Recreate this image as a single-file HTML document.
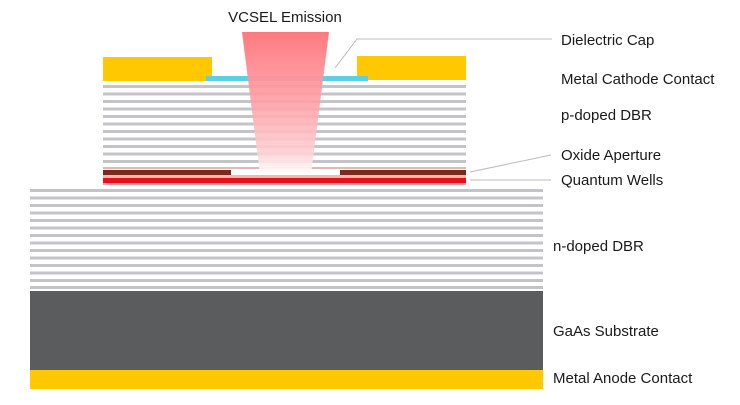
<!DOCTYPE html>
<html><head><meta charset="utf-8"><style>
body{margin:0;background:#fff;}
svg text{font-family:"Liberation Sans",Arial,sans-serif;font-size:15px;fill:#1a1a1a;}
</style></head><body>
<svg width="740" height="400" viewBox="0 0 740 400" xmlns="http://www.w3.org/2000/svg">
<defs>
<linearGradient id="beam" x1="0" y1="0" x2="0" y2="1">
<stop offset="0" stop-color="#ff7a80"/>
<stop offset="0.5" stop-color="#ffa0a6" stop-opacity="0.9"/>
<stop offset="0.85" stop-color="#ffd0d4" stop-opacity="0.9"/>
<stop offset="1" stop-color="#ffffff" stop-opacity="0.95"/>
</linearGradient>
</defs>
<g fill="#c4c4c8">
<rect x="103" y="85" width="363" height="3"/>
<rect x="103" y="92.5" width="363" height="3"/>
<rect x="103" y="100" width="363" height="3"/>
<rect x="103" y="107.5" width="363" height="3"/>
<rect x="103" y="115" width="363" height="3"/>
<rect x="103" y="122.5" width="363" height="3"/>
<rect x="103" y="130" width="363" height="3"/>
<rect x="103" y="137.5" width="363" height="3"/>
<rect x="103" y="145" width="363" height="3"/>
<rect x="103" y="152.5" width="363" height="3"/>
<rect x="103" y="160" width="363" height="3"/>
<rect x="103" y="167" width="363" height="2" fill="#e0b8b8"/>
</g>
<rect x="103" y="170" width="128" height="5" fill="#7a2a1a"/>
<rect x="340" y="170" width="126" height="5" fill="#7a2a1a"/>
<rect x="103" y="175" width="363" height="3" fill="#f2b8b0"/>
<rect x="103" y="178" width="363" height="5" fill="#e8101c"/>
<rect x="103" y="183" width="363" height="2" fill="#f0a0a8"/>
<g fill="#c4c4c8">
<rect x="30" y="189" width="513" height="3"/>
<rect x="30" y="196.5" width="513" height="3"/>
<rect x="30" y="204" width="513" height="3"/>
<rect x="30" y="211.5" width="513" height="3"/>
<rect x="30" y="219" width="513" height="3"/>
<rect x="30" y="226.5" width="513" height="3"/>
<rect x="30" y="234" width="513" height="3"/>
<rect x="30" y="241.5" width="513" height="3"/>
<rect x="30" y="249" width="513" height="3"/>
<rect x="30" y="256.5" width="513" height="3"/>
<rect x="30" y="264" width="513" height="3"/>
<rect x="30" y="271.5" width="513" height="3"/>
<rect x="30" y="279" width="513" height="3"/>
<rect x="30" y="286" width="513" height="3"/>
</g>
<rect x="30" y="291" width="513" height="79" fill="#5b5c5e"/>
<rect x="30" y="370" width="513" height="19" fill="#ffc800"/>
<rect x="103" y="57" width="109" height="24" fill="#ffc800"/>
<rect x="357" y="56" width="109" height="24" fill="#ffc800"/>
<rect x="206" y="76" width="162" height="5" fill="#5cd0e0"/>
<polygon points="242,32 329,32 311,174 260,174" fill="url(#beam)"/>
<polyline points="552,39 357,39 335,68" fill="none" stroke="#bbb" stroke-width="1"/>
<line x1="551" y1="155" x2="470" y2="172" stroke="#bbb" stroke-width="1"/>
<line x1="551" y1="180" x2="470" y2="180" stroke="#bbb" stroke-width="1"/>
<text x="285" y="22" text-anchor="middle">VCSEL Emission</text>
<text x="561" y="45">Dielectric Cap</text>
<text x="561" y="84">Metal Cathode Contact</text>
<text x="561" y="120">p-doped DBR</text>
<text x="561" y="160">Oxide Aperture</text>
<text x="561" y="185">Quantum Wells</text>
<text x="553" y="251">n-doped DBR</text>
<text x="553" y="336">GaAs Substrate</text>
<text x="553" y="383">Metal Anode Contact</text>
</svg>
</body></html>
